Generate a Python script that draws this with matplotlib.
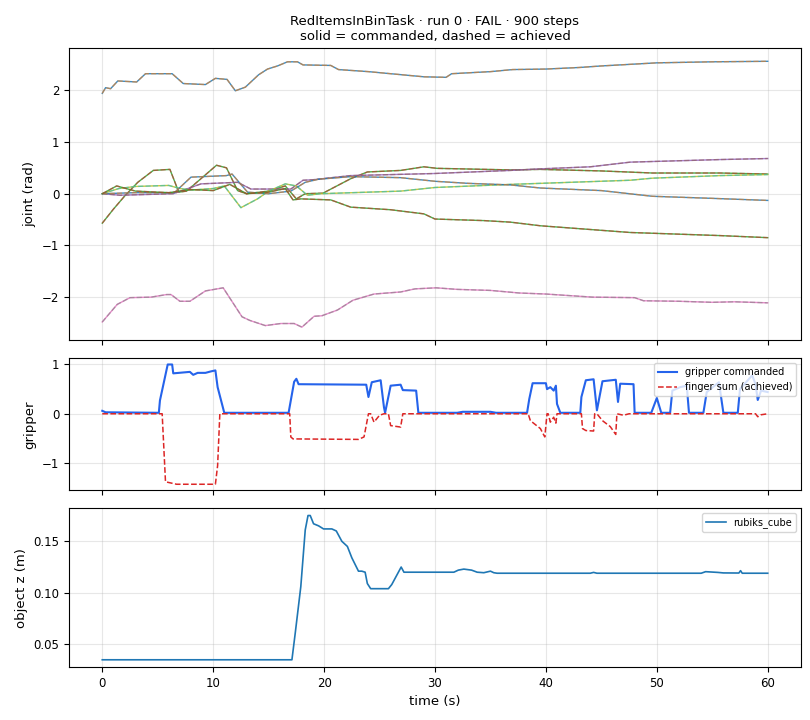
import numpy as np
import matplotlib
matplotlib.use("Agg")
import matplotlib.pyplot as plt

# joint trajectories (time s, rad)
J0_T = [0, 0.3, 0.75, 1.4, 3.1, 3.9, 6.3, 7.3, 9.3, 10.2, 11.25, 12.0, 12.9, 14.1, 14.9, 15.8,
        16.7, 17.6, 18.1, 20.6, 21.3, 24, 27, 29, 31, 31.5, 35, 37, 40, 43, 45, 50, 55, 60]
J0_V = [1.94, 2.05, 2.03, 2.18, 2.16, 2.32, 2.32, 2.13, 2.11, 2.23, 2.21, 1.99, 2.06, 2.30, 2.41, 2.47,
        2.55, 2.55, 2.49, 2.48, 2.40, 2.36, 2.30, 2.26, 2.25, 2.32, 2.36, 2.40, 2.41, 2.44, 2.47, 2.53, 2.55, 2.56]

J1_T = [0, 1, 2, 3.2, 4.6, 6.1, 6.9, 7.6, 10.3, 11.2, 12.2, 13, 15, 16.5, 17.5, 18.3, 19.9, 22.4, 23.9,
        26.9, 29, 30.2, 36.8, 39.5, 45, 49.6, 55.7, 60]
J1_V = [-0.57, -0.3, -0.05, 0.22, 0.45, 0.47, 0.03, 0.05, 0.55, 0.50, 0.06, 0.0, 0.05, 0.15, -0.10, 0.0,
        0.01, 0.29, 0.42, 0.45, 0.52, 0.49, 0.46, 0.47, 0.44, 0.40, 0.40, 0.38]

J2_T = [0, 1.6, 6.4, 8.9, 12.2, 13.4, 17, 18.1, 19, 22.4, 29.9, 36.8, 39.5, 44, 47.6, 55.7, 60]
J2_V = [0.0, -0.03, 0.0, 0.19, 0.22, 0.09, 0.09, 0.26, 0.27, 0.35, 0.39, 0.45, 0.48, 0.52, 0.61, 0.66, 0.68]

J3_T = [0, 1.35, 2.5, 4.4, 5.8, 6.2, 7.0, 7.9, 9.3, 10.9, 12.6, 13.3, 14.7, 16.1, 17.3, 18.0, 19.1,
        19.8, 21.2, 22.6, 24.5, 26.9, 28.2, 30.1, 32, 35, 37.6, 40, 44.2, 48, 48.8, 52, 55, 57, 60]
J3_V = [-2.48, -2.14, -2.01, -2.0, -1.95, -1.95, -2.08, -2.08, -1.88, -1.82, -2.38, -2.45, -2.55, -2.51, -2.51,
        -2.58, -2.37, -2.36, -2.25, -2.06, -1.94, -1.90, -1.84, -1.82, -1.85, -1.87, -1.92, -1.94, -2.0, -2.01,
        -2.07, -2.08, -2.10, -2.09, -2.11]

J4_T = [0, 1.5, 3, 6, 7, 8, 10, 11, 12.5, 14, 15, 16.5, 17.5, 18.5, 19.7, 26.9, 30, 36.8, 39.5, 47.6,
        49.6, 55.7, 60]
J4_V = [0.0, 0.10, 0.14, 0.16, 0.10, 0.07, 0.10, 0.15, -0.27, -0.10, 0.05, 0.19, 0.15, -0.03, 0.0, 0.05,
        0.12, 0.18, 0.20, 0.26, 0.30, 0.35, 0.37]

J5_T = [0, 3, 6.5, 8, 11.2, 11.7, 13.1, 15, 17, 18.3, 19.5, 22.4, 26.9, 30, 33, 36.8, 39.5, 45, 49.6,
        55, 60]
J5_V = [0.0, 0.02, 0.02, 0.32, 0.35, 0.38, 0.03, 0.0, 0.05, 0.22, 0.28, 0.33, 0.31, 0.24, 0.20, 0.17, 0.11,
        0.06, -0.05, -0.09, -0.13]

J6_T = [0, 1.3, 3, 6, 8, 10, 11.5, 13, 15, 16.5, 17.2, 17.9, 20.6, 22.4, 26, 29, 30, 34.4, 36.8, 39.5,
        47.6, 55.7, 60]
J6_V = [0.0, 0.15, 0.05, 0.02, 0.08, 0.06, 0.18, 0.0, 0.03, 0.10, -0.12, -0.10, -0.12, -0.26, -0.31, -0.39,
        -0.49, -0.52, -0.55, -0.62, -0.75, -0.81, -0.85]

JOINT_T = [J0_T, J1_T, J2_T, J3_T, J4_T, J5_T, J6_T]
JOINT_V = [J0_V, J1_V, J2_V, J3_V, J4_V, J5_V, J6_V]

# gripper command and finger sum
GRIP_T = [0, 0.3, 5.1, 5.2, 5.9, 6.3, 6.4, 7.9, 8.2, 8.6, 9.3, 9.8, 10.2, 10.4, 11.0, 16.8, 17.3, 17.5,
          17.7, 23.8, 24.0, 24.3, 25.1, 25.4, 25.5, 26.0, 26.9, 27.1, 28.3, 28.5, 32, 32.5, 35, 35.5,
          38.3, 38.5, 38.8, 40.0, 40.1, 40.4, 40.7, 40.9, 41.0, 41.3, 43.1, 43.2, 43.6, 44.3, 44.6, 45.1,
          46.3, 46.5, 46.7, 47.9, 48.0, 49.5, 50.0, 50.4, 51.2, 51.4, 52.1, 52.7, 52.9, 54.2, 54.5, 55.6,
          56.0, 57.3, 57.5, 58.6, 58.9, 59.1, 59.4, 60]
GRIP_V = [0.06, 0.03, 0.02, 0.27, 1.0, 1.0, 0.82, 0.85, 0.79, 0.83, 0.83, 0.86, 0.88, 0.54, 0.02, 0.02, 0.65,
          0.71, 0.6, 0.59, 0.34, 0.64, 0.68, 0.13, 0.02, 0.57, 0.59, 0.48, 0.47, 0.02, 0.02, 0.04, 0.04, 0.02,
          0.02, 0.3, 0.62, 0.62, 0.5, 0.54, 0.47, 0.57, 0.2, 0.02, 0.02, 0.34, 0.68, 0.7, 0.07, 0.66,
          0.69, 0.24, 0.61, 0.6, 0.02, 0.02, 0.32, 0.02, 0.02, 0.47, 0.54, 0.57, 0.02, 0.02, 0.44, 0.64,
          0.02, 0.02, 0.5, 0.78, 0.6, 0.28, 0.47, 0.44]

FING_T = [0, 5.4, 5.7, 6.7, 10.2, 10.4, 10.6, 16.9, 17.0, 17.2, 23.1, 23.6, 24.0, 24.2, 24.5, 25.0, 25.4,
          25.8, 26.0, 26.9, 27.1, 38.4, 38.6, 39.5, 39.9, 40.1, 40.2, 40.4, 40.7, 40.9, 41.0, 43.2, 43.3,
          43.6, 44.3, 44.4, 44.6, 45.1, 45.8, 46.3, 46.4, 47.0, 47.5, 58.9, 59.1, 59.4, 60]
FING_V = [0.0, 0.0, -1.38, -1.43, -1.43, -1.05, 0.0, 0.0, -0.47, -0.51, -0.52, -0.47, 0.0, 0.0, -0.17, -0.03,
          0.0, 0.0, -0.24, -0.27, 0.0, 0.0, -0.14, -0.3, -0.47, 0.0, 0.0, -0.17, -0.07, -0.19, 0.0, 0.0, -0.3,
          -0.34, -0.35, 0.0, 0.0, -0.14, -0.26, -0.42, 0.0, -0.03, 0.0, 0.0, -0.06, -0.02, 0.0]

# object height
OBJ_T = [0, 17.1, 17.4, 17.9, 18.3, 18.55, 18.75, 19.05, 19.5, 19.95, 20.7, 21.1, 21.6, 22.1, 22.5, 23.1,
         23.4, 23.7, 23.9, 24.2, 25.8, 26.1, 26.6, 26.95, 27.2, 31.7, 32.1, 32.6, 33.3, 33.8, 34.4, 35.0,
         35.3, 35.6, 44, 44.3, 44.6, 54, 54.4, 55.5, 56, 57.4, 57.55, 57.7, 60]
OBJ_V = [0.035, 0.035, 0.061, 0.106, 0.161, 0.175, 0.175, 0.167, 0.165, 0.162, 0.162, 0.160, 0.150, 0.145,
         0.134, 0.121, 0.121, 0.120, 0.109, 0.104, 0.104, 0.108, 0.118, 0.125, 0.120, 0.120, 0.122, 0.123,
         0.122, 0.120, 0.1195, 0.121, 0.1195, 0.119, 0.119, 0.1198, 0.119, 0.119, 0.1205, 0.1198, 0.1193,
         0.1192, 0.1215, 0.119, 0.119]

plt.rcParams['font.size'] = 9.5

fig = plt.figure(figsize=(8.1, 7.2), dpi=100)
gs = fig.add_gridspec(3, 1, height_ratios=[293, 132, 159], hspace=0.093,
                      left=69 / 810, right=801 / 810, top=1 - 48 / 720, bottom=1 - 667 / 720)
ax0 = fig.add_subplot(gs[0])
ax1 = fig.add_subplot(gs[1], sharex=ax0)
ax2 = fig.add_subplot(gs[2], sharex=ax0)

for j in range(7):
    c_cmd = "C%d" % ((2 * j) % 10)
    c_ach = "C%d" % ((2 * j + 1) % 10)
    ax0.plot(JOINT_T[j], JOINT_V[j], color=c_cmd, lw=1.0, alpha=0.85)
    ax0.plot(JOINT_T[j], JOINT_V[j], color=c_ach, lw=1.0, ls="--", alpha=0.55)
ax0.set_ylabel("joint (rad)")
ax0.set_title("RedItemsInBinTask · run 0 · FAIL · 900 steps\nsolid = commanded, dashed = achieved",
              fontsize=9.5)

ax1.plot(GRIP_T, GRIP_V, color="#2563eb", lw=1.5, label="gripper commanded")
ax1.plot(FING_T, FING_V, color="#dc2626", lw=1.1, ls="--", label="finger sum (achieved)")
ax1.set_ylabel("gripper")
ax1.legend(loc="upper right", fontsize=7)

ax2.plot(OBJ_T, OBJ_V, color="C0", lw=1.2, label="rubiks_cube")
ax2.set_ylabel("object z (m)")
ax2.set_xlabel("time (s)")
ax2.legend(loc="upper right", fontsize=7)

for ax in (ax0, ax1, ax2):
    ax.grid(True, alpha=0.3)
    ax.tick_params(labelsize=8.5)
for ax in (ax0, ax1):
    plt.setp(ax.get_xticklabels(), visible=False)

fig.savefig("out.png", dpi=100)
